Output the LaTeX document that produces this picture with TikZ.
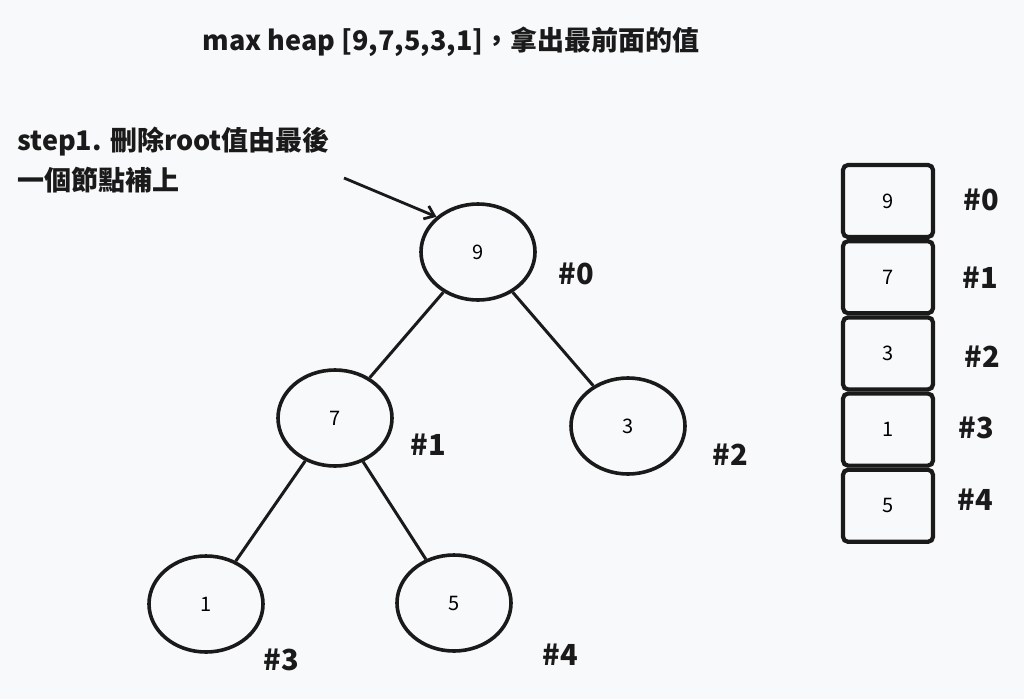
\documentclass[tikz,border=0pt]{standalone}
\usepackage{fontspec}
\setmainfont{Noto Sans CJK TC}
\usepackage{tikz}
\usetikzlibrary{arrows.meta,positioning,shapes.geometric}
\definecolor{HeapBg}{HTML}{F8F9FA}
\definecolor{HeapInk}{HTML}{1A1A1A}

\begin{document}
\begin{tikzpicture}[
  x=1pt, y=-1pt,
  heapnode/.style={draw=HeapInk, ellipse, line width=3.6pt, minimum width=114pt, minimum height=96pt, inner sep=0pt, font=\fontsize{20}{22}\selectfont},
  cell/.style={draw=HeapInk, rounded corners=5pt, line width=4.2pt, minimum width=90pt, minimum height=72pt, inner sep=0pt, font=\fontsize{20}{22}\selectfont},
  idx/.style={font=\fontsize{29}{32}\selectfont\bfseries, text=HeapInk},
  edge/.style={line width=3pt, draw=HeapInk},
  arrow/.style={-{Straight Barb[length=9pt,width=14pt]}, line width=2.8pt, draw=HeapInk}
]
  \useasboundingbox[fill=HeapBg] (0,0) rectangle (1024,699);

  \node[font=\fontsize{27}{30}\selectfont\bfseries, text=HeapInk] (title) at (451,42) {max heap [9,7,5,3,1]，拿出最前面的值};
  \node[anchor=west, align=left, font=\fontsize{27}{40}\selectfont\bfseries, text=HeapInk] (note) at (14,160) {step1. 刪除root值由最後\\一個節點補上};

  % tree
  \node[heapnode] (n0) at (478,252) {9};
  \node[heapnode] (n1) at (335,418) {7};
  \node[heapnode] (n2) at (628,426) {3};
  \node[heapnode] (n3) at (206,604) {1};
  \node[heapnode] (n4) at (454,603) {5};

  \draw[edge] (n0) -- (n1);
  \draw[edge] (n0) -- (n2);
  \draw[edge] (n1) -- (n3);
  \draw[edge] (n1) -- (n4);

  \coordinate (tail) at (344,178);
  \draw[arrow] (tail) -- (n0.north west);

  \node[idx] (i0) at (576,274) {\#0};
  \node[idx] (i1) at (428,445) {\#1};
  \node[idx] (i2) at (730,455) {\#2};
  \node[idx] (i3) at (281,660) {\#3};
  \node[idx] (i4) at (560,655) {\#4};

  % array
  \node[cell] (c0) at (888,201) {9};
  \node[cell, below=0pt of c0] (c1) {7};
  \node[cell, below=0pt of c1] (c2) {3};
  \node[cell, below=0pt of c2] (c3) {1};
  \node[cell, below=0pt of c3] (c4) {5};

  \node[idx] (a0) at (981,200) {\#0};
  \node[idx] (a1) at (980,278) {\#1};
  \node[idx] (a2) at (982,357) {\#2};
  \node[idx] (a3) at (976,428) {\#3};
  \node[idx] (a4) at (975,500) {\#4};
\end{tikzpicture}
\end{document}
